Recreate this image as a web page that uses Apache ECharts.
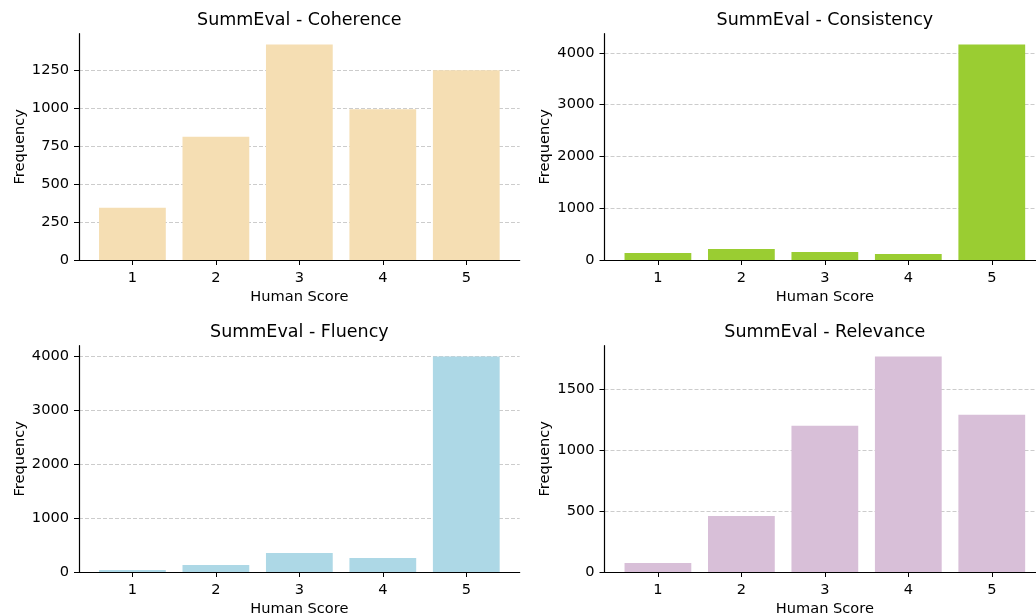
<!DOCTYPE html>
<html>
<head>
<meta charset="utf-8">
<script src="https://cdn.jsdelivr.net/npm/echarts@6/dist/echarts.min.js"></script>
<style>
  html, body { margin: 0; padding: 0; background: #fff; }
  #main { width: 1036px; height: 616px; }
</style>
</head>
<body>
<div id="main"></div>
<script>
// human score categories
const scores = [1, 2, 3, 4, 5];

// frequency per score
const coherence = [343, 811, 1417, 991, 1248];
const consistency = [135, 213, 155, 116, 4161];
const fluency = [37, 130, 353, 260, 4000];
const relevance = [74, 461, 1201, 1771, 1292];

// y tick labels
const ticksCoherence = [0, 250, 500, 750, 1000, 1250];
const ticksConsistency = [0, 1000, 2000, 3000, 4000];
const ticksFluency = [0, 1000, 2000, 3000, 4000];
const ticksRelevance = [0, 500, 1000, 1500];

const titles = ['SummEval - Coherence', 'SummEval - Consistency', 'SummEval - Fluency', 'SummEval - Relevance'];
const colors = ['#F5DEB3', '#9ACD32', '#ADD8E6', '#D8BFD8'];
const values = [coherence, consistency, fluency, relevance];
const yTicks = [ticksCoherence, ticksConsistency, ticksFluency, ticksRelevance];

// panel boxes (px) - right column runs past the canvas edge like the original
const boxes = [
  { left: 79, top: 33.7, width: 440.7, height: 226.3 },
  { left: 604.5, top: 33.7, width: 440.7, height: 226.3 },
  { left: 79, top: 345.7, width: 440.7, height: 226.3 },
  { left: 604.5, top: 345.7, width: 440.7, height: 226.3 }
];

const FONT = 'DejaVu Sans';
const xMin = 0.36, xMax = 5.64;

const chart = echarts.init(document.getElementById('main'), null, { renderer: 'canvas' });

const option = {
  animation: false,
  backgroundColor: '#fff',
  textStyle: { fontFamily: FONT },
  title: boxes.map((b, i) => ({
    text: titles[i],
    left: b.left + b.width / 2,
    top: b.top - 22,
    textAlign: 'center',
    padding: 0,
    textStyle: { fontFamily: FONT, fontSize: 17.5, fontWeight: 'normal', color: '#000' }
  })),
  grid: boxes.map(b => ({
    left: b.left, top: b.top, width: b.width, height: b.height,
    containLabel: false,
    outerBoundsMode: 'none'
  })),
  xAxis: boxes.map((b, i) => ({
    type: 'value',
    gridIndex: i,
    min: xMin,
    max: xMax,
    name: 'Human Score',
    nameLocation: 'middle',
    nameGap: 30,
    nameTextStyle: { fontFamily: FONT, fontSize: 14.6, color: '#000', verticalAlign: 'top' },
    axisLine: { show: true, lineStyle: { color: '#000', width: 1.2 } },
    axisTick: { show: true, length: 5, lineStyle: { color: '#000', width: 1 }, customValues: scores },
    axisLabel: { fontFamily: FONT, fontSize: 14.6, color: '#000', margin: 11, customValues: scores, formatter: v => String(v) },
    splitLine: { show: false }
  })),
  yAxis: boxes.map((b, i) => {
    const vals = values[i];
    return {
      type: 'value',
      gridIndex: i,
      min: 0,
      max: Math.max(...vals) * 1.05,
      name: 'Frequency',
      nameLocation: 'middle',
      nameGap: 51.5,
      nameRotate: 90,
      nameTextStyle: { fontFamily: FONT, fontSize: 14.6, color: '#000' },
      axisLine: { show: true, lineStyle: { color: '#000', width: 1.2 } },
      axisTick: { show: true, length: 5, lineStyle: { color: '#000', width: 1 }, customValues: yTicks[i] },
      axisLabel: { fontFamily: FONT, fontSize: 14.6, color: '#000', margin: 10, customValues: yTicks[i], formatter: v => String(v) },
      splitLine: {
        show: true,
        showMinLine: false,
        lineStyle: { color: '#cccccc', width: 1, type: [4, 2] }
      }
    };
  }),
  series: boxes.map((b, i) => ({
    type: 'bar',
    xAxisIndex: i,
    yAxisIndex: i,
    barWidth: 0.8 * b.width / (xMax - xMin),
    itemStyle: { color: colors[i] },
    data: scores.map((s, j) => [s, values[i][j]])
  }))
};

chart.setOption(option);
</script>
</body>
</html>
